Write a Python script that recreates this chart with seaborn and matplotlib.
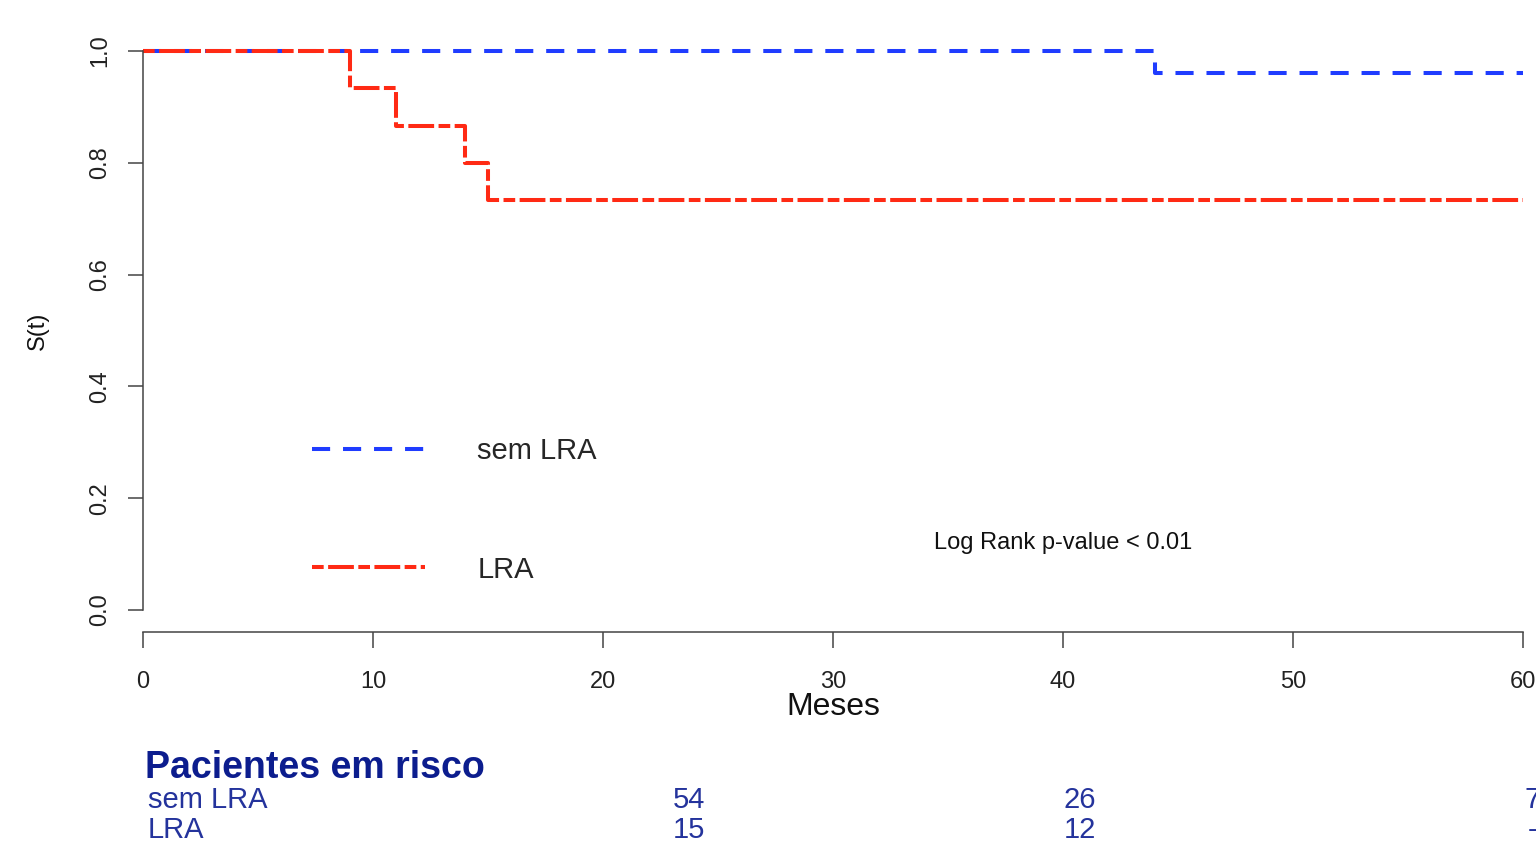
import numpy as np
import pandas as pd
import seaborn as sns
import matplotlib
matplotlib.use('Agg')
import matplotlib.pyplot as plt
import matplotlib.transforms as mtransforms

# curvas de Kaplan-Meier (tempo em meses, S(t))
grupos = ['sem LRA', 'LRA']
t_sem = [0, 44, 60]
s_sem = [1.0, 0.96, 0.96]
t_lra = [0, 9, 11, 14, 15, 60]
s_lra = [1.0, 14/15, 13/15, 12/15, 11/15, 11/15]

# tabela de pacientes em risco
risco_sem = ['54', '26', '7']
risco_lra = ['15', '12', '-']

x_ticks = [0, 10, 20, 30, 40, 50, 60]
y_ticks = [0.0, 0.2, 0.4, 0.6, 0.8, 1.0]

df = pd.concat([
    pd.DataFrame({'tempo': t_sem, 'S': s_sem, 'grupo': 'sem LRA'}),
    pd.DataFrame({'tempo': t_lra, 'S': s_lra, 'grupo': 'LRA'}),
])

sns.set_style('white')
plt.rcParams['font.family'] = ['Liberation Sans', 'DejaVu Sans']

cores = {'sem LRA': '#1f3cff', 'LRA': '#ff2a14'}
tracos = {'sem LRA': (0, (4.5, 3.2)), 'LRA': (0, (2.9, 1.1, 6.4, 1.1))}

fig = plt.figure(figsize=(15.36, 8.46), dpi=100)
ax = fig.add_axes([143/1536, 1 - 632.4/846, 1380/1536, 603.8/846])

for g in grupos:
    sns.lineplot(data=df[df['grupo'] == g], x='tempo', y='S', ax=ax,
                 color=cores[g], linestyle=tracos[g], linewidth=2.9,
                 drawstyle='steps-post', label=g, legend=False)

ax.set_xlim(0, 60)
ax.set_ylim(-0.04, 1.04)
ax.set_xticks(x_ticks)
ax.set_yticks(y_ticks)
ax.set_yticklabels([f'{v:.1f}' for v in y_ticks], rotation=90, va='center')
ax.tick_params(axis='y', length=10.8, width=1.1, color='#444444', pad=12,
               labelsize=17, labelcolor='#222222', left=True)
ax.tick_params(axis='x', length=11.5, width=1.1, color='#444444', pad=16,
               labelsize=17, labelcolor='#222222', bottom=True)

for s in ['top', 'right']:
    ax.spines[s].set_visible(False)
ax.spines['left'].set_bounds(0, 1)
ax.spines['bottom'].set_bounds(0, 60)
for s in ['left', 'bottom']:
    ax.spines[s].set_color('#444444')
    ax.spines[s].set_linewidth(1.1)

ax.set_xlabel('Meses', fontsize=23, color='#111111')
ax.xaxis.set_label_coords(0.5, -0.1236)
ax.xaxis.label.set_verticalalignment('center')
ax.set_ylabel('S(t)', fontsize=17, color='#111111')
ax.yaxis.set_label_coords(-0.0761, 0.5)
ax.yaxis.label.set_verticalalignment('center')

leg = ax.legend(loc='center left', bbox_to_anchor=(0.1225, 0.202),
                frameon=False, fontsize=21, handlelength=3.88,
                handletextpad=1.78, labelspacing=3.1,
                borderpad=0, borderaxespad=0)

ax.text(40, 0.12, 'Log Rank p-value < 0.01', fontsize=17, ha='center',
        va='center', color='#111111')

# pacientes em risco
azul_tit = '#0c1d8e'
azul_txt = '#24339c'
fig.text(145/1536, 1 - 767.5/846, 'Pacientes em risco', fontsize=27,
         fontweight='bold', color=azul_tit, va='center', ha='left')
fig.text(148/1536, 1 - 800/846, 'sem LRA', fontsize=21, color=azul_txt,
         va='center', ha='left')
fig.text(148/1536, 1 - 830/846, 'LRA', fontsize=21, color=azul_txt,
         va='center', ha='left')

trans = mtransforms.blended_transform_factory(ax.transData, fig.transFigure)
col_x = [23.74, 40.74, 60.4]
for xc, a, b in zip(col_x, risco_sem, risco_lra):
    fig.text(xc, 1 - 800/846, a, fontsize=21, color=azul_txt, ha='center',
             va='center', transform=trans)
    fig.text(xc, 1 - 830/846, b, fontsize=21, color=azul_txt, ha='center',
             va='center', transform=trans)

fig.savefig('out.png', dpi=100)
